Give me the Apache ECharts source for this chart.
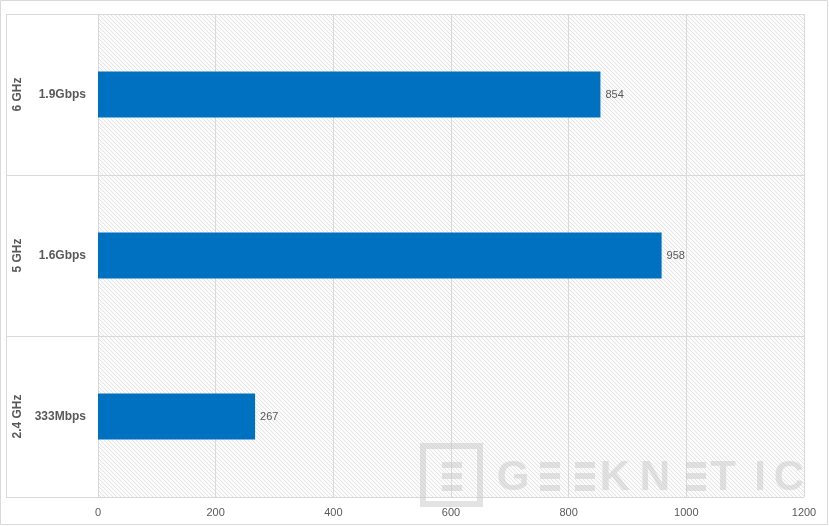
<!DOCTYPE html>
<html><head><meta charset="utf-8">
<script src="https://cdn.jsdelivr.net/npm/echarts@6/dist/echarts.min.js"></script>
<style>html,body{margin:0;padding:0;background:#fff}#c{width:829px;height:526px}</style>
</head><body><div id="c"></div>
<script>
// Data (bottom to top)
const bandLabels = ['2.4 GHz', '5 GHz', '6 GHz'];
const speedLabels = ['333Mbps', '1.6Gbps', '1.9Gbps'];
const values = [267, 958, 854];
const xTicks = { min: 0, max: 1200, interval: 200 };

// hatch pattern
const tile = document.createElement('canvas');
const s = 4;
tile.width = s; tile.height = s;
const tctx = tile.getContext('2d');
tctx.fillStyle = '#fbfbfb';
tctx.fillRect(0, 0, s, s);
tctx.strokeStyle = '#dedede';
tctx.lineWidth = 0.8;
tctx.beginPath();
tctx.moveTo(-1, -1); tctx.lineTo(s + 1, s + 1);
tctx.moveTo(-1, s - 1); tctx.lineTo(1, s + 1);
tctx.moveTo(s - 1, -1); tctx.lineTo(s + 1, 1);
tctx.stroke();

const chart = echarts.init(document.getElementById('c'), null, { renderer: 'canvas' });
const font = 'Liberation Sans, Arial, sans-serif';
const wmColor = 'rgba(200,200,200,0.5)';
const wmLetters = [['G', 513], ['K', 615], ['N', 655], ['T', 723], ['I', 760], ['C', 789]];
const wmE = [442, 540, 575, 686];

const graphics = [
  { type: 'rect', shape: { x: 0.5, y: 0.5, width: 827, height: 524 }, style: { fill: 'none', stroke: '#d9d9d9', lineWidth: 1 }, silent: true, z: 100 },
  { type: 'line', shape: { x1: 6.5, y1: 14, x2: 6.5, y2: 497 }, style: { stroke: '#d9d9d9', lineWidth: 1 }, z: 100 },
  { type: 'rect', shape: { x: 423, y: 446, width: 57, height: 58 }, style: { fill: 'none', stroke: wmColor, lineWidth: 6 }, z: 100 }
];
wmLetters.forEach(([ch, x]) => graphics.push({
  type: 'text', x: x, y: 478, z: 100,
  style: { text: ch, fill: wmColor, font: 'bold 42px ' + font, align: 'center', verticalAlign: 'middle' }
}));
wmE.forEach(x => [462, 473, 485].forEach(y => graphics.push({
  type: 'rect', shape: { x: x, y: y, width: 20, height: 6 }, style: { fill: wmColor }, z: 100
})));

chart.setOption({
  animation: false,
  backgroundColor: '#ffffff',
  grid: { left: 98, right: 25, top: 14, bottom: 29, show: true, backgroundColor: { image: tile, repeat: 'repeat' }, borderWidth: 0 },
  xAxis: {
    type: 'value', min: xTicks.min, max: xTicks.max, interval: xTicks.interval,
    axisLine: { show: false }, axisTick: { show: false },
    axisLabel: { color: '#595959', fontSize: 11, fontFamily: font, margin: 10, formatter: v => String(v) },
    splitLine: { show: true, lineStyle: { color: '#d9d9d9', width: 1 } }
  },
  yAxis: [{
    type: 'category', data: speedLabels, position: 'left',
    axisLine: { show: true, lineStyle: { color: '#d9d9d9' } },
    axisTick: { show: true, length: 92, lineStyle: { color: '#d9d9d9' } },
    axisLabel: { color: '#595959', fontSize: 12, fontWeight: 'bold', fontFamily: font, margin: 12 },
    splitLine: { show: true, lineStyle: { color: '#d9d9d9' } }
  }, {
    type: 'category', data: bandLabels, position: 'left', offset: 72,
    axisLine: { show: false }, axisTick: { show: false },
    axisLabel: { color: '#595959', fontSize: 12, fontWeight: 'bold', fontFamily: font, rotate: 90, margin: 8, align: 'center', verticalAlign: 'middle' },
    splitLine: { show: false }
  }],
  series: [{
    type: 'bar', data: values, yAxisIndex: 0, barWidth: '28.5%',
    itemStyle: { color: '#0070C0' },
    label: { show: true, position: 'right', color: '#595959', fontSize: 11, fontFamily: font, distance: 5 }
  }],
  graphic: graphics
});
</script></body></html>
